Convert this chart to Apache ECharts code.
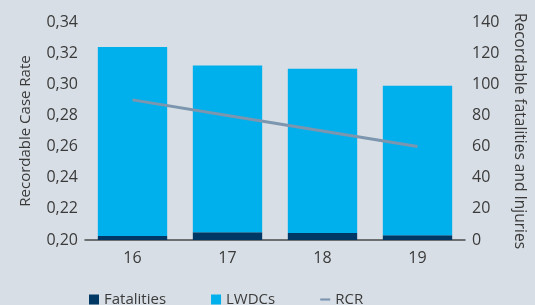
<!DOCTYPE html>
<html>
<head>
<meta charset="utf-8">
<script src="https://cdn.jsdelivr.net/npm/echarts@6/dist/echarts.min.js"></script>
<style>
html,body{margin:0;padding:0;background:#d7dee5;}
#c{width:535px;height:305px;}
</style>
</head>
<body>
<div id="c"></div>
<script>
var categories = ['16', '17', '18', '19'];
var fatalities = [2.5, 5, 4.5, 3];
var lwdcs = [121.5, 107, 105.5, 96];
var rcr = [0.29, 0.28, 0.27, 0.26];

var textColor = '#3a3a3a';
var fontFamily = '"Open Sans", sans-serif';

var chart = echarts.init(document.getElementById('c'));
chart.setOption({
  backgroundColor: '#d7dee5',
  animation: false,
  textStyle: { fontFamily: fontFamily, color: textColor },
  grid: { left: 85, right: 60, top: 22, bottom: 65 },
  legend: {
    left: 84, top: 287, itemGap: 45, itemWidth: 10, itemHeight: 10,
    textStyle: { fontSize: 15, color: textColor, fontFamily: fontFamily },
    data: [
      { name: 'Fatalities', icon: 'rect' },
      { name: 'LWDCs', icon: 'rect' },
      { name: 'RCR', icon: 'path://M0,0 L14,0 L14,3 L0,3 Z', itemStyle: { color: '#7b96ae' } }
    ]
  },
  xAxis: {
    type: 'category', data: categories,
    axisLine: { show: true, lineStyle: { color: '#4a4a4a', width: 1.5 } },
    axisTick: { show: false },
    axisLabel: { fontSize: 16, color: textColor, margin: 10 }
  },
  yAxis: [
    {
      type: 'value', min: 0.2, max: 0.34, interval: 0.02,
      name: 'Recordable Case Rate', nameLocation: 'middle', nameRotate: 90, nameGap: 52,
      nameTextStyle: { fontSize: 15, color: textColor },
      axisLine: { show: false }, axisTick: { show: false }, splitLine: { show: false },
      axisLabel: { fontSize: 16, color: textColor, margin: 7,
        formatter: function (v) { return v.toFixed(2).replace('.', ','); } }
    },
    {
      type: 'value', min: 0, max: 140, interval: 20,
      name: 'Recordable fatalities and Injuries', nameLocation: 'middle', nameRotate: -90, nameGap: 46,
      nameTextStyle: { fontSize: 15.5, color: textColor },
      axisLine: { show: false }, axisTick: { show: false }, splitLine: { show: false },
      axisLabel: { fontSize: 16, color: textColor, margin: 7 }
    }
  ],
  series: [
    { name: 'Fatalities', type: 'bar', stack: 'a', yAxisIndex: 1, data: fatalities,
      barCategoryGap: '27%', itemStyle: { color: '#003865' } },
    { name: 'LWDCs', type: 'bar', stack: 'a', yAxisIndex: 1, data: lwdcs,
      barCategoryGap: '27%', itemStyle: { color: '#00b0ec' } },
    { name: 'RCR', type: 'line', yAxisIndex: 0, data: rcr, symbol: 'none',
      lineStyle: { color: '#7b96ae', width: 3 }, itemStyle: { color: '#7b96ae' }, z: 5 }
  ]
});
</script>
</body>
</html>
